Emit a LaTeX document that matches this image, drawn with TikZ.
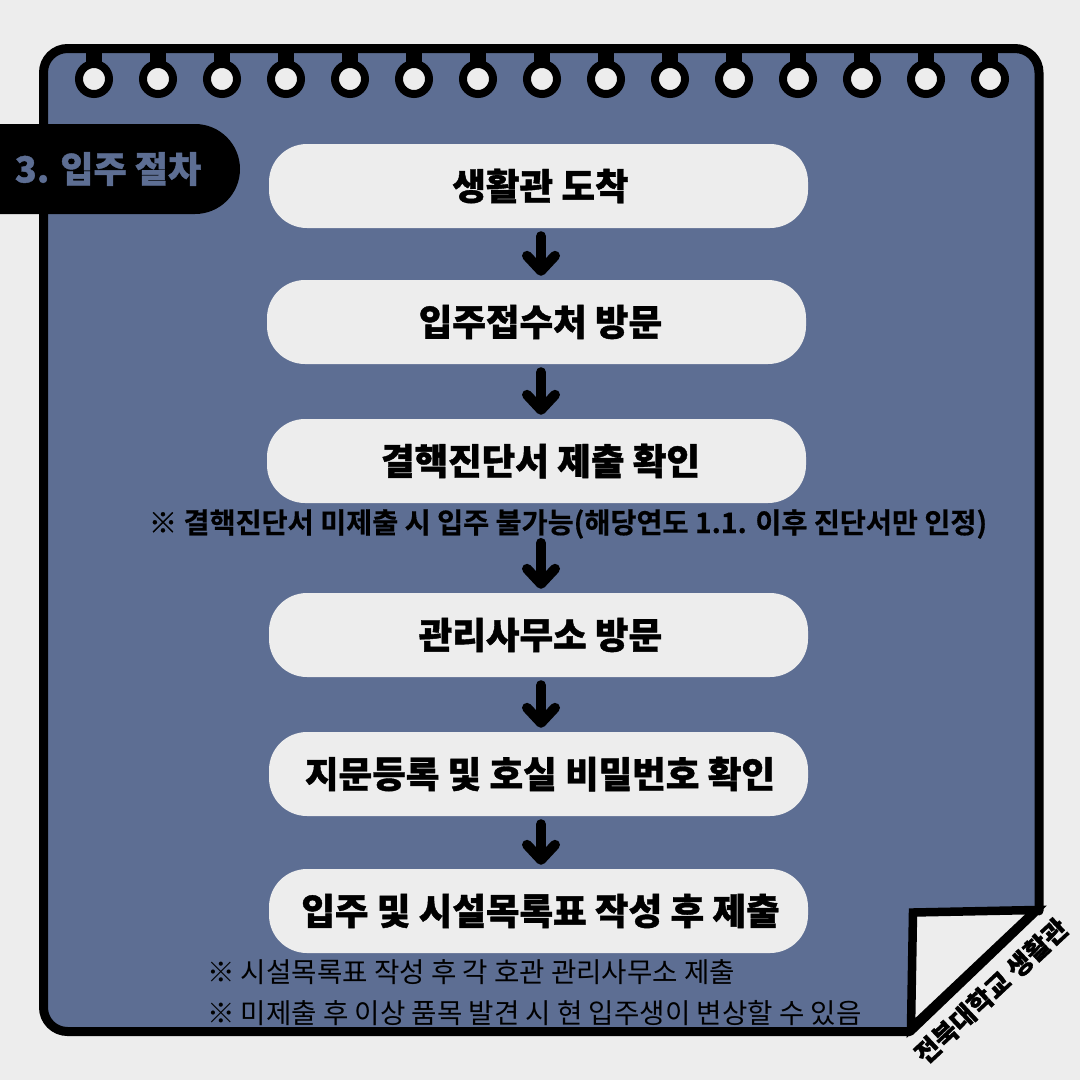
\documentclass[tikz,border=0pt]{standalone}
\usepackage{fontspec}
\usetikzlibrary{arrows.meta}
\newfontfamily\krb{Noto Sans CJK KR Black}[FakeBold=1.1]
\newfontfamily\krm{Noto Sans CJK KR Bold}[FakeBold=0.5]
\newfontfamily\krr{Noto Sans CJK KR}
\definecolor{pagebg}{HTML}{EDEDED}
\definecolor{noteblue}{HTML}{5D6E93}
\tikzset{
  x=1pt,y=-1pt,
  pill/.style={fill=pagebg,rounded corners=38pt,minimum height=84pt,minimum width=539pt,inner sep=0pt,font=\krb\fontsize{36.5}{36}\selectfont,text=black},
  flow/.style={line width=10pt,line cap=round,black,-{Straight Barb[length=15pt,width=28pt,line width=10pt,round]},shorten <=8pt,shorten >=4pt},
  notetext/.style={inner sep=0pt,text=black},
  framepen/.style={draw=black,line width=9pt,line join=round},
  ringhole/.style={circle,fill=pagebg,draw=black,line width=8pt,minimum size=30pt,inner sep=0pt},
}
\begin{document}
\begin{tikzpicture}
\useasboundingbox (0,0) rectangle (1080,1080);
\fill[pagebg] (0,0) rectangle (1080,1080);
% note sheet
\filldraw[framepen,fill=noteblue,rounded corners=24pt] (43.5,48.5) -- (1039,48.5) -- (1039,925) [sharp corners] -- (1039,908) -- (910,1031.5) [rounded corners=24pt] -- (43.5,1031.5) -- cycle;
% fold
\filldraw[draw=black,line width=8.5pt,line join=miter,miter limit=3,fill=pagebg] (913,912.5) -- (1036,910) -- (911,1028) -- cycle;
% spiral rings
\foreach \rx in {94,158,222,286,350,414,478,542,606,670,734,798,862,926,990}{
  \fill[black] (\rx-8,50) rectangle (\rx+8,70);
  \node[ringhole] at (\rx,79) {};
}
% tab
\fill[black,rounded corners=45pt] (-60,124) rectangle (240,214);
\node[inner sep=0pt,text=noteblue,font=\krb\fontsize{36}{36}\selectfont] (tab) at (108,169) {3. 입주 절차};
% steps
\node[pill] (s1) at (538.5,186) {\hspace*{4pt}생활관 도착};
\node[pill] (s2) at (536.5,322) {\hspace*{8pt}입주접수처 방문};
\node[pill] (s3) at (536.5,461) {\hspace*{8pt}결핵진단서 제출 확인};
\node[pill] (s4) at (538.5,635) {\hspace*{4pt}관리사무소 방문};
\node[pill] (s5) at (538.5,774) {\hspace*{3pt}지문등록 및 호실 비밀번호 확인};
\node[pill] (s6) at (538.5,911) {\hspace*{4pt}입주 및 시설목록표 작성 후 제출};
% notes
\node[notetext,font=\krm\fontsize{28.3}{28}\selectfont] (n3) at (568,524) {※ 결핵진단서 미제출 시 입주 불가능(해당연도 1.1. 이후 진단서만 인정)};
\node[notetext,anchor=west,font=\krr\fontsize{27.6}{28}\selectfont] (n6a) at (207,972) {※ 시설목록표 작성 후 각 호관 관리사무소 제출};
\node[notetext,anchor=west,font=\krr\fontsize{27.6}{28}\selectfont] (n6b) at (207,1013) {※ 미제출 후 이상 품목 발견 시 현 입주생이 변상할 수 있음};
% stamp
\node[inner sep=0pt,rotate=43,font=\krb\fontsize{26}{26}\selectfont] (stamp) at (991,991) {전북대학교 생활관};
% connectors
\coordinate (ax) at (541,0);
\draw[flow] (s1.south -| ax) -- (s2.north -| ax);
\draw[flow] (s2.south -| ax) -- (s3.north -| ax);
\draw[flow,shorten <=4pt] (n3.south -| ax) -- (s4.north -| ax);
\draw[flow] (s4.south -| ax) -- (s5.north -| ax);
\draw[flow] (s5.south -| ax) -- (s6.north -| ax);
\end{tikzpicture}
\end{document}
